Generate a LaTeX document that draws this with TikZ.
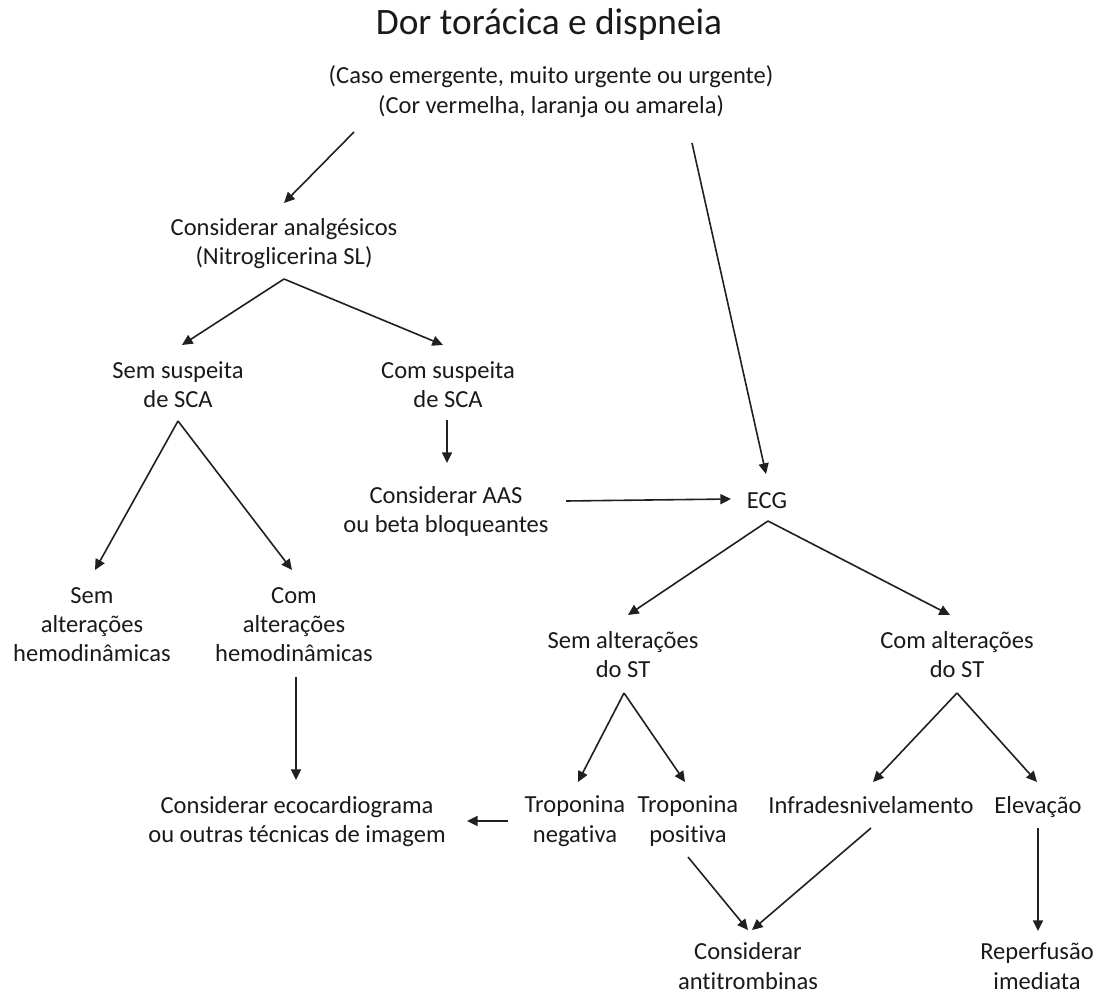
\documentclass[tikz,border=0pt]{standalone}
\usepackage{fontspec}
\setmainfont{Carlito}[Ligatures={NoCommon}]
\usetikzlibrary{arrows.meta,calc}
\newcommand\lst{\rule[-4.5pt]{0pt}{21pt}}
\definecolor{txt}{HTML}{1A1A1A}
\definecolor{lc}{HTML}{202020}
\begin{document}
\begin{tikzpicture}[x=0.75pt,y=-0.75pt,
  lbl/.style={inner sep=0pt, align=center, text=txt, font=\fontsize{18.4}{22.1}\selectfont},
  arr/.style={draw=lc, line width=1.2pt, -{Triangle[length=8pt,width=7.5pt]}}]
\useasboundingbox (0,0) rectangle (1099,995);
\fill[white] (0,0) rectangle (1099,995);

\node[inner sep=0pt, text=txt, font=\fontsize{28}{33}\selectfont] (title) at (549,25) {\rule[-7pt]{0pt}{29pt}Dor torácica e dispneia};
\node[lbl] (sub) at (551,90.5) {\lst(Caso emergente, muito urgente ou urgente)\\\lst(Cor vermelha, laranja ou amarela)};
\node[lbl] (an)  at (284,242) {\lst Considerar analgésicos\\\lst(Nitroglicerina SL)};
\node[lbl] (ss)  at (178,385) {\lst Sem suspeita\\\lst de SCA};
\node[lbl] (cs)  at (448,385) {\lst Com suspeita\\\lst de SCA};
\node[lbl] (aas) at (446,510) {\lst Considerar AAS\\\lst ou beta bloqueantes};
\node[lbl] (ecg) at (767,500) {\lst ECG};
\node[lbl] (sah) at (92,624.5) {\lst Sem\\\lst alterações\\\lst hemodinâmicas};
\node[lbl] (cah) at (294,624.5) {\lst Com\\\lst alterações\\\lst hemodinâmicas};
\node[lbl] (eco) at (297,820) {\lst Considerar ecocardiograma\\\lst ou outras técnicas de imagem};
\node[lbl] (sst) at (623,655) {\lst Sem alterações\\\lst do ST};
\node[lbl] (cst) at (957,655) {\lst Com alterações\\\lst do ST};
\node[lbl] (tn)  at (575,819.5) {\lst Troponina\\\lst negativa};
\node[lbl] (tp)  at (688,819.5) {\lst Troponina\\\lst positiva};
\node[lbl] (inf) at (871,805) {\lst Infradesnivelamento};
\node[lbl] (ele) at (1038,805) {\lst Elevação};
\node[lbl] (at)  at (748,966.5) {\lst Considerar\\\lst antitrombinas};
\node[lbl] (rep) at (1037,966.5) {\lst Reperfusão\\\lst imediata};

\draw[arr] ($(sub)+(-197,41.5)$) -- ($(an)+(0,-39)$);
\draw[arr] ($(sub)+(141,52.5)$) -- ($(ecg)+(-1,-26)$);
\draw[arr] ($(an)+(0,37)$) -- ($(ss)+(4,-40)$);
\draw[arr] ($(an)+(0,37)$) -- ($(cs)+(-5,-40)$);
\draw[arr] ($(cs)+(-1,35)$) -- ($(aas)+(1,-47)$);
\draw[arr] ($(aas)+(120,-9)$) -- ($(ecg)+(-36,-1)$);
\draw[arr] ($(ss)+(0,36)$) -- ($(sah)+(3,-54.5)$);
\draw[arr] ($(ss)+(0,36)$) -- ($(cah)+(-2,-54.5)$);
\draw[arr] ($(cah)+(2,52.5)$) -- ($(eco)+(-1,-40)$);
\draw[arr] ($(ecg)+(1,21)$) -- ($(sst)+(5,-40)$);
\draw[arr] ($(ecg)+(1,21)$) -- ($(cst)+(-7,-40)$);
\draw[arr] ($(sst)+(1,38)$) -- ($(tn)+(3,-37.5)$);
\draw[arr] ($(sst)+(1,38)$) -- ($(tp)+(-3,-37.5)$);
\draw[arr] ($(cst)+(0,38)$) -- ($(inf)+(2,-23)$);
\draw[arr] ($(cst)+(0,38)$) -- ($(ele)+(-1,-23)$);
\draw[arr] ($(tn)+(-67,1.5)$) -- ($(eco)+(170,1)$);
\draw[arr] ($(tp)+(0,37.5)$) -- ($(at)+(0,-36.5)$);
\draw[arr] ($(inf)+(0,23)$) -- ($(at)+(4,-36.5)$);
\draw[arr] ($(ele)+(0,23)$) -- ($(rep)+(1,-35.5)$);
\end{tikzpicture}
\end{document}
